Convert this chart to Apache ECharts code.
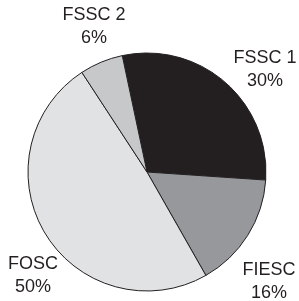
<!DOCTYPE html>
<html>
<head>
<meta charset="utf-8">
<script src="https://cdn.jsdelivr.net/npm/echarts@6/dist/echarts.min.js"></script>
<style>
  html, body { margin: 0; padding: 0; background: #fff; }
  #chart { width: 299px; height: 301px; }
</style>
</head>
<body>
<div id="chart"></div>
<script>
var names = ['FSSC 1', 'FIESC', 'FOSC', 'FSSC 2'];
var shares = [30, 16, 50, 6];
var sliceColors = ['#231f20', '#97989b', '#e1e2e4', '#c7c8ca'];
// where each label block sits (center x, center y)
var labelPos = [[265, 70], [269, 282], [33, 276], [94, 27]];

var chart = echarts.init(document.getElementById('chart'));

chart.setOption({
  animation: false,
  series: [{
    type: 'pie',
    center: [147, 172],
    radius: 119,
    startAngle: 102,
    clockwise: true,
    avoidLabelOverlap: false,
    data: names.map(function (n, i) {
      return { name: n, value: shares[i], itemStyle: { color: sliceColors[i] } };
    }),
    itemStyle: {
      borderColor: '#231f20',
      borderWidth: 1
    },
    label: {
      show: true,
      position: 'outside',
      formatter: function (p) { return p.name + '\n' + p.value + '%'; },
      fontFamily: 'Liberation Sans, Arial, sans-serif',
      fontSize: 18,
      lineHeight: 23,
      color: '#231f20',
      align: 'center'
    },
    labelLine: { show: false },
    labelLayout: function (params) {
      var pos = labelPos[params.dataIndex];
      return { x: pos[0], y: pos[1], align: 'center', verticalAlign: 'middle' };
    }
  }]
});
</script>
</body>
</html>
